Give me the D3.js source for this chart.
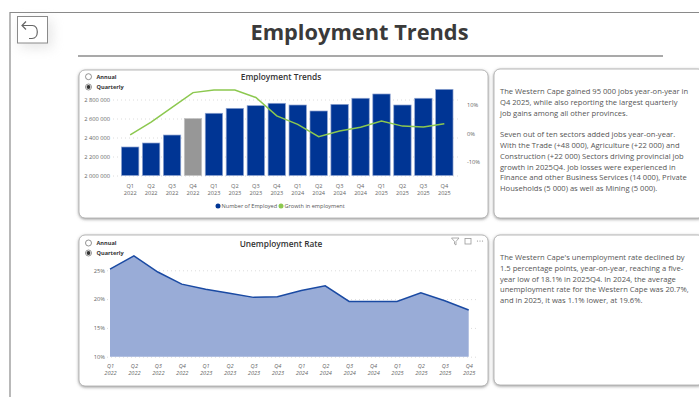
<!DOCTYPE html>
<html>
<head>
<meta charset="utf-8">
<script src="https://cdn.jsdelivr.net/npm/d3@7"></script>
<style>
html,body{margin:0;padding:0;background:#fff;overflow:hidden}
svg{display:block}
text{font-family:"Open Sans",sans-serif}
.axis path,.axis line{display:none}
.grid line{stroke:#dcdcdc;stroke-width:1;stroke-dasharray:1 3}
.grid path{display:none}
</style>
</head>
<body>
<svg id="page" width="699" height="397"></svg>
<script>
// Quarterly series for the Western Cape
const quarters = ["Q1 2022","Q2 2022","Q3 2022","Q4 2022","Q1 2023","Q2 2023","Q3 2023","Q4 2023",
                  "Q1 2024","Q2 2024","Q3 2024","Q4 2024","Q1 2025","Q2 2025","Q3 2025","Q4 2025"];
const employed = [2300000,2342000,2426000,2600000,2655000,2707000,2735000,2760000,
                  2742000,2679000,2749000,2813000,2858000,2742000,2813000,2907000];
const growth = [-0.5,4,9.2,14.4,15.3,15.3,12.7,6.2,3.2,-1.1,0.9,2.2,4.4,2.6,2.3,3.4];
const unemployment = [25.2,27.5,24.7,22.6,21.7,21,20.3,20.4,21.5,22.3,19.6,19.6,19.6,21.1,19.7,18.1];
const highlightQuarter = "Q4 2022";

const employedTicks = [2000000,2200000,2400000,2600000,2800000];
const growthTicks = [-10,0,10];
const unemploymentTicks = [10,15,20,25];
const periodOptions = ["Annual","Quarterly"];
const legendItems = ["Number of Employed","Growth in employment"];

const employmentNote = [
  ["The Western Cape gained 95 000 jobs year-on-year in","Q4 2025, while also reporting the largest quarterly","job gains among all other provinces."],
  ["Seven out of ten sectors added jobs year-on-year.","With the Trade (+48 000), Agriculture (+22 000) and","Construction (+22 000) Sectors driving provincial job","growth in 2025Q4. Job losses were experienced in","Finance and other Business Services (14 000), Private","Households (5 000) as well as Mining (5 000)."]
];
const unemploymentNote = [
  ["The Western Cape's unemployment rate declined by","1.5 percentage points, year-on-year, reaching a five-","year low of 18.1% in 2025Q4. In 2024, the average","unemployment rate for the Western Cape was 20.7%,","and in 2025, it was 1.1% lower, at 19.6%."]
];

const BLUE = "#003594", GREY = "#979797", GREEN = "#8cc84f", AREA = "#99acd7", AREA_LINE = "#1a4aa3";

const svg = d3.select("#page");
const defs = svg.append("defs");
const shadow = defs.append("filter").attr("id","cardShadow")
  .attr("x","-5%").attr("y","-5%").attr("width","110%").attr("height","110%");
shadow.append("feDropShadow").attr("dx",0).attr("dy",1).attr("stdDeviation",1.4)
  .attr("flood-color","#555").attr("flood-opacity",0.6);
const soft = defs.append("filter").attr("id","softGlow")
  .attr("x","-60%").attr("y","-60%").attr("width","220%").attr("height","220%");
soft.append("feGaussianBlur").attr("stdDeviation",6);

// Page frame, back button, heading
svg.append("path").attr("d","M10 397V12.5H699").attr("fill","none").attr("stroke","#8a8a8a").attr("stroke-width",1.2);
svg.append("rect").attr("x",20).attr("y",20).attr("width",32).attr("height",28).attr("fill","#bbb").attr("opacity",.35).attr("filter","url(#softGlow)");
svg.append("rect").attr("x",17.5).attr("y",16.5).attr("width",30).attr("height",26.5).attr("fill","#fff").attr("stroke","#8a8a8a");
svg.append("path").attr("d","M26 21.5L22 25.5L26 29.5M22 25.5H32.5C39 25.5 39 38.5 32 38.5H29")
  .attr("fill","none").attr("stroke","#666").attr("stroke-width",1.2);
svg.append("text").attr("x",359.5).attr("y",40).attr("text-anchor","middle")
  .attr("font-size",21.8).attr("font-weight",700).attr("fill","#3a3a3a").text("Employment Trends");
svg.append("line").attr("x1",78).attr("x2",663).attr("y1",56).attr("y2",56).attr("stroke","#555").attr("stroke-width",1.2);

function card(x,y,w,h){
  svg.append("rect").attr("x",x).attr("y",y).attr("width",w).attr("height",h).attr("rx",6)
    .attr("fill","#fff").attr("stroke","#a8a8a8").attr("stroke-width",.8).attr("filter","url(#cardShadow)");
}
card(79,70,409,148);
card(494,69,210,149);
card(79,235,409,151);
card(494,235,210,150);

function radios(yTop,step){
  periodOptions.forEach((name,i)=>{
    const y = yTop + i*step;
    svg.append("circle").attr("cx",88.5).attr("cy",y).attr("r",3).attr("fill","#fff").attr("stroke","#666").attr("stroke-width",.7);
    if(name==="Quarterly") svg.append("circle").attr("cx",88.5).attr("cy",y).attr("r",1.9).attr("fill","#333");
    svg.append("text").attr("x",96.5).attr("y",y+2).attr("font-size",5.6).attr("font-weight",700).attr("fill","#333").text(name);
  });
}

function chartTitle(label,y){
  svg.append("text").attr("x",281).attr("y",y).attr("text-anchor","middle")
    .attr("font-size",8.3).attr("font-weight",600).attr("fill","#333").text(label);
}

function quarterLabels(g,style){
  g.selectAll(".tick text").each(function(d){
    const parts = d.split(" ");
    const t = d3.select(this).text(null).attr("font-size",5.6).attr("fill","#666").attr("font-style",style);
    t.append("tspan").attr("x",0).attr("dy",0).text(parts[0]);
    t.append("tspan").attr("x",0).attr("dy",7.4).text(parts[1]);
  });
}

function writeNote(paragraphs,yStart){
  let y = yStart;
  paragraphs.forEach(lines=>{
    lines.forEach(line=>{
      svg.append("text").attr("x",500).attr("y",y).attr("font-size",7.6).attr("fill","#555").text(line);
      y += 10.8;
    });
    y += 10.8;
  });
}

// Employment: bars on the left scale, growth line on the right scale
const x1 = d3.scaleBand().domain(quarters).range([119.6,454.9]).paddingInner(.17).paddingOuter(.09);
const yEmp = d3.scaleLinear().domain([2000000,2800000]).range([175.5,99.5]);
const yGrowth = d3.scaleLinear().domain([-10,10]).range([161.9,105.1]);
const spaced = d3.formatLocale({decimal:".",thousands:" ",grouping:[3],currency:["",""]}).format(",d");

radios(76.7,10.3);
chartTitle("Employment Trends",80);

svg.append("g").attr("class","grid").attr("transform","translate(113,0)")
  .call(d3.axisLeft(yEmp).tickValues(employedTicks).tickSize(-347).tickFormat(""));

svg.append("g").attr("class","axis").attr("transform","translate(110,0)")
  .call(d3.axisLeft(yEmp).tickValues(employedTicks).tickSize(0).tickPadding(0).tickFormat(spaced))
  .selectAll("text").attr("font-size",5.7).attr("fill","#666");

svg.append("g").attr("class","axis").attr("transform","translate(467,0)")
  .call(d3.axisRight(yGrowth).tickValues(growthTicks).tickSize(0).tickPadding(0).tickFormat(d=>d+"%"))
  .selectAll("text").attr("font-size",5.7).attr("fill","#666");

svg.append("g").selectAll("rect").data(quarters).join("rect")
  .attr("x",d=>x1(d)).attr("width",x1.bandwidth())
  .attr("y",(d,i)=>yEmp(employed[i])).attr("height",(d,i)=>yEmp(2000000)-yEmp(employed[i]))
  .attr("fill",d=>d===highlightQuarter?GREY:BLUE)
  .attr("stroke",d=>d===highlightQuarter?"#c4c4c4":"#8ea3d0").attr("stroke-width",.7);

svg.append("path").datum(growth).attr("fill","none").attr("stroke",GREEN).attr("stroke-width",1.5)
  .attr("d",d3.line().x((d,i)=>x1(quarters[i])+x1.bandwidth()/2).y(d=>yGrowth(d)));

quarterLabels(svg.append("g").attr("class","axis").attr("transform","translate(0,186)")
  .call(d3.axisBottom(x1).tickSize(0).tickPadding(0)).call(g=>g.selectAll(".tick text").attr("dy",0).attr("y",2)),"normal");

// Legend below the employment chart
const legendX = [218,281];
const legendColors = [BLUE,GREEN];
legendItems.forEach((name,i)=>{
  svg.append("circle").attr("cx",legendX[i]).attr("cy",206).attr("r",2.5).attr("fill",legendColors[i]);
  svg.append("text").attr("x",legendX[i]+3.5).attr("y",208).attr("font-size",5.6).attr("fill","#555").text(name);
});

// Unemployment area
const x2 = d3.scalePoint().domain(quarters).range([110,468.7]);
const yUn = d3.scaleLinear().domain([10,25]).range([356.7,270.3]);

radios(243,10);
chartTitle("Unemployment Rate",247);

svg.append("g").attr("class","grid").attr("transform","translate(107,0)")
  .call(d3.axisLeft(yUn).tickValues(unemploymentTicks).tickSize(-371).tickFormat(""));

svg.append("g").attr("class","axis").attr("transform","translate(105,0)")
  .call(d3.axisLeft(yUn).tickValues(unemploymentTicks).tickSize(0).tickPadding(0).tickFormat(d=>d+"%"))
  .selectAll("text").attr("font-size",5.7).attr("fill","#666");

svg.append("path").datum(unemployment).attr("fill",AREA)
  .attr("d",d3.area().x((d,i)=>x2(quarters[i])).y0(yUn(10)).y1(d=>yUn(d)));
svg.append("path").datum(unemployment).attr("fill","none").attr("stroke",AREA_LINE).attr("stroke-width",1.5)
  .attr("d",d3.line().x((d,i)=>x2(quarters[i])).y(d=>yUn(d)));

quarterLabels(svg.append("g").attr("class","axis").attr("transform","translate(0,367)")
  .call(d3.axisBottom(x2).tickSize(0).tickPadding(0)).call(g=>g.selectAll(".tick text").attr("dy",0).attr("y",1)),"italic");

// Visual header icons: filter, focus, more
const icons = svg.append("g").attr("fill","none").attr("stroke","#999").attr("stroke-width",.8);
icons.append("path").attr("d","M451.5 238H459L456 241.5V245L454.5 244V241.5Z");
icons.append("rect").attr("x",465).attr("y",238.5).attr("width",6).attr("height",5.5);
[477.5,480,482.5].forEach(cx=>svg.append("circle").attr("cx",cx).attr("cy",241).attr("r",.6).attr("fill","#888"));

// Commentary cards
writeNote(employmentNote,94);
writeNote(unemploymentNote,260);
</script>
</body>
</html>
